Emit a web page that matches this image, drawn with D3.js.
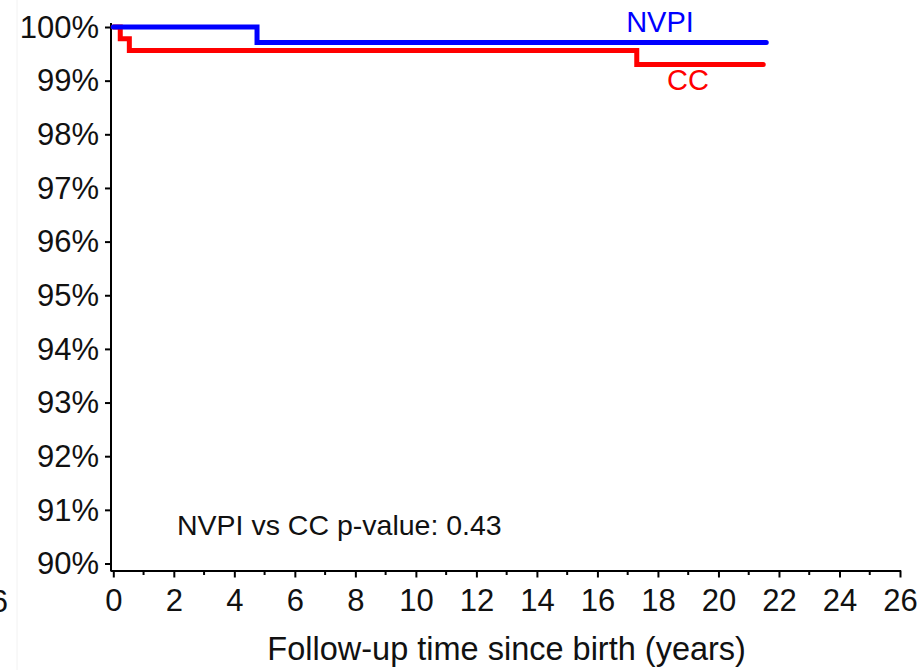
<!DOCTYPE html>
<html><head><meta charset="utf-8">
<script src="https://cdn.jsdelivr.net/npm/d3@7"></script>
<style>
html,body{margin:0;padding:0;background:#fff;}
svg{display:block;font-family:"Liberation Sans",Arial,sans-serif;}
</style></head>
<body><svg id="chart" width="920" height="670"></svg>
<script>
// Kaplan-Meier step data: time (years) and survival (%)
const nvpiTimes = [0, 4.75, 21.58];
const nvpiSurv  = [100, 99.71, 99.71];
const ccTimes   = [0, 0.23, 0.53, 17.3, 21.48];
const ccSurv    = [100, 99.78, 99.56, 99.30, 99.30];
const xTicks = [0,2,4,6,8,10,12,14,16,18,20,22,24,26];
const xMinorTicks = [1,3,5,7,9,11,13,15,17,19,21,23,25];
const yTicks = [90,91,92,93,94,95,96,97,98,99,100];
const seriesNames = ["NVPI","CC"];
const seriesColors = ["#0000ff","#ff0000"];
const xTitle = "Follow-up time since birth (years)";
const pText = "NVPI vs CC p-value: 0.43";

const svg = d3.select("#chart");
const x = d3.scaleLinear().domain([0,26]).range([113.3,900]);
const y = d3.scaleLinear().domain([90,100]).range([563.5,27]);
const axisY = 570.5, axisX = 111;

// faint left boundary
svg.append("line").attr("x1",17).attr("x2",17).attr("y1",0).attr("y2",670)
  .attr("stroke","#f2f2f2").attr("stroke-width",1);
// clipped fragment on the left
svg.append("text").attr("x",8).attr("y",612).attr("text-anchor","end")
  .attr("font-size",31).attr("fill","#111").text("26");

// x axis
const xAxis = d3.axisBottom(x).tickValues(xTicks).tickSize(7).tickPadding(11).tickFormat(d3.format("d"));
const gx = svg.append("g").attr("transform",`translate(0,${axisY})`).call(xAxis);
gx.select(".domain").attr("d",`M${axisX},0.5H${x(26)+1}`).attr("stroke","#000").attr("stroke-width",2);
gx.selectAll(".tick line").attr("stroke","#000").attr("stroke-width",2);
gx.selectAll(".tick text").attr("font-size",31).attr("fill","#111").attr("font-family","Liberation Sans, Arial, sans-serif");
svg.append("g").selectAll("line").data(xMinorTicks).join("line")
  .attr("x1",d=>x(d)).attr("x2",d=>x(d)).attr("y1",axisY).attr("y2",axisY+4.5)
  .attr("stroke","#000").attr("stroke-width",2);

// y axis
const yAxis = d3.axisLeft(y).tickValues(yTicks).tickSize(6).tickPadding(6).tickFormat(d=>d+"%");
const gy = svg.append("g").attr("transform",`translate(${axisX},0)`).call(yAxis);
gy.select(".domain").attr("d",`M0,23V${axisY+1}`).attr("stroke","#000").attr("stroke-width",2);
gy.selectAll(".tick line").attr("stroke","#000").attr("stroke-width",2);
gy.selectAll(".tick text").attr("font-size",31).attr("fill","#111").attr("dy","0.33em").attr("font-family","Liberation Sans, Arial, sans-serif");

// x title
svg.append("text").attr("x",(x(0)+x(26))/2).attr("y",660).attr("text-anchor","middle")
  .attr("font-size",32.5).attr("fill","#111").text(xTitle);

// p-value
svg.append("text").attr("x",177).attr("y",535).attr("font-size",28.5).attr("fill","#111").text(pText);

// KM lines
const line = d3.line().x(d=>x(d[0])).y(d=>y(d[1])).curve(d3.curveStepAfter);
const series = [
  {name:seriesNames[0], pts:d3.zip(nvpiTimes,nvpiSurv), color:seriesColors[0]},
  {name:seriesNames[1], pts:d3.zip(ccTimes,ccSurv), color:seriesColors[1]}
];
// draw CC first so NVPI sits on top at 100%
svg.append("path").datum(series[1].pts).attr("d",line).attr("fill","none")
  .attr("stroke",series[1].color).attr("stroke-width",5).attr("stroke-linecap","round").attr("stroke-linejoin","miter");
svg.append("path").datum(series[0].pts).attr("d",line).attr("fill","none")
  .attr("stroke",series[0].color).attr("stroke-width",5).attr("stroke-linecap","round").attr("stroke-linejoin","miter");

// labels
svg.append("text").attr("x",660).attr("y",32).attr("text-anchor","middle")
  .attr("font-size",29).attr("fill",seriesColors[0]).text(seriesNames[0]);
svg.append("text").attr("x",688).attr("y",90).attr("text-anchor","middle")
  .attr("font-size",29).attr("fill",seriesColors[1]).text(seriesNames[1]);
</script></body></html>
